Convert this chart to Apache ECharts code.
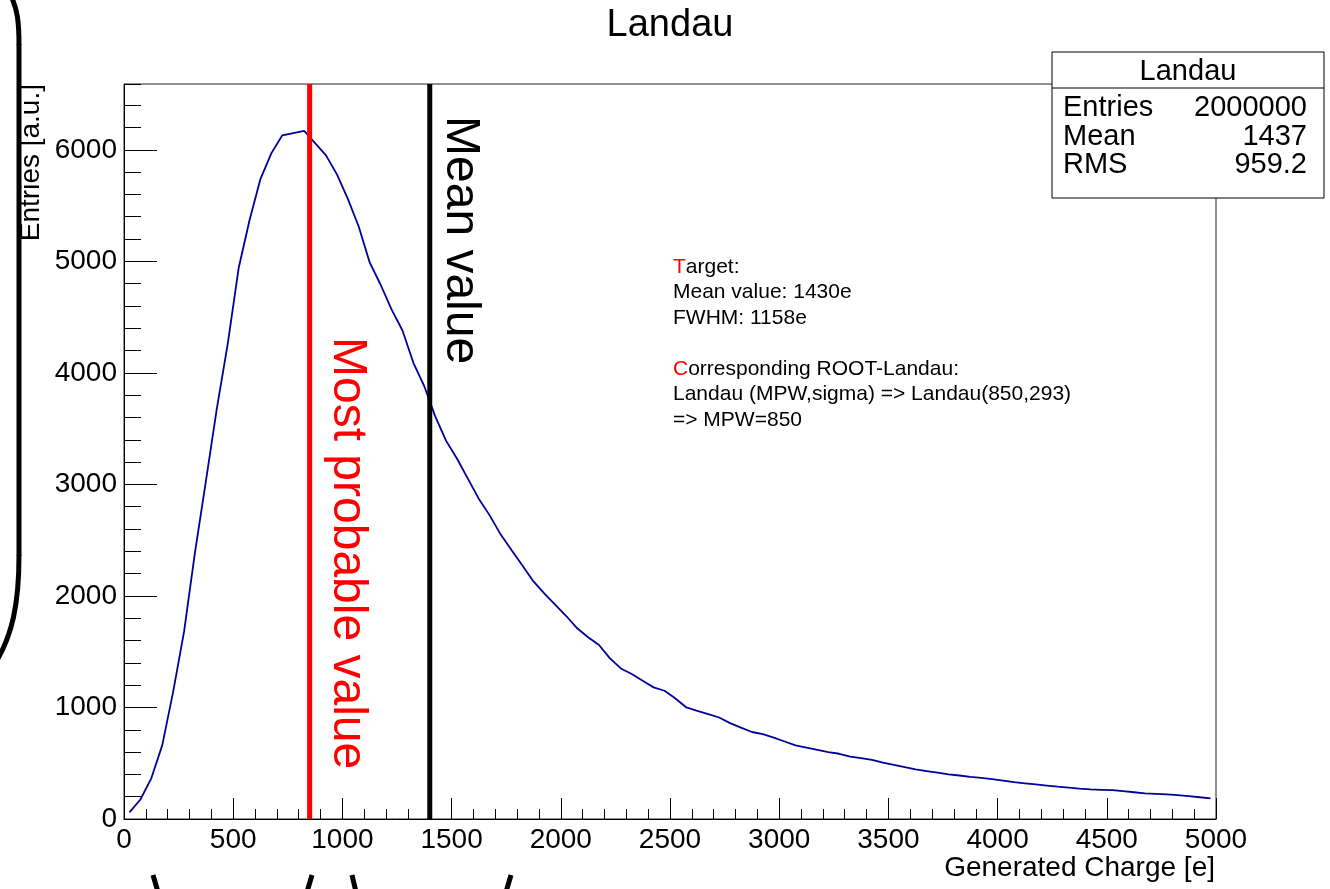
<!DOCTYPE html>
<html><head><meta charset="utf-8">
<script src="https://cdn.jsdelivr.net/npm/echarts@6/dist/echarts.min.js"></script>
<style>html,body{margin:0;padding:0;background:#fff}#c{width:1330px;height:889px}</style>
</head><body><div id="c"></div>
<script>
// ---- data ----
const binLowEdges = [0,50,100,150,200,250,300,350,400,450,500,550,600,650,700,750,800,850,900,950,
1000,1050,1100,1150,1200,1250,1300,1350,1400,1450,1500,1550,1600,1650,1700,1750,1800,1850,1900,1950,
2000,2050,2100,2150,2200,2250,2300,2350,2400,2450,2500,2550,2600,2650,2700,2750,2800,2850,2900,2950,
3000,3050,3100,3150,3200,3250,3300,3350,3400,3450,3500,3550,3600,3650,3700,3750,3800,3850,3900,3950,
4000,4050,4100,4150,4200,4250,4300,4350,4400,4450,4500,4550,4600,4650,4700,4750,4800,4850,4900,4950];
const binWidth = 50;
const binCounts = [60,175,365,660,1140,1680,2390,3030,3680,4260,4940,5370,5740,5970,6130,6150,6170,6060,5950,5780,
5560,5310,4990,4790,4570,4380,4090,3880,3610,3390,3230,3050,2870,2720,2550,2410,2270,2130,2020,1920,
1820,1710,1630,1560,1440,1350,1300,1240,1180,1150,1080,1000,970,940,910,860,820,780,760,730,
695,660,640,620,600,585,560,545,530,505,485,465,445,430,415,400,390,378,368,358,
345,330,320,310,300,290,282,272,266,262,258,250,240,230,225,220,214,205,195,185];
const mostProbableValue = 850;
const meanMarker = 1400;
const yMax = 6590;
const statsTitle = 'Landau';
const statsRows = [['Entries','2000000'],['Mean','1437'],['RMS','959.2']];
const infoLines = [['T','arget:'],['','Mean value: 1430e'],['','FWHM: 1158e'],['',''],['C','orresponding ROOT-Landau:'],['','Landau (MPW,sigma) => Landau(850,293)'],['','=> MPW=850']];

// ---- build ----
const FONT = '"Liberation Sans", Arial, Helvetica, sans-serif';
const histData = binLowEdges.map((e,i)=>[e + binWidth/2, binCounts[i]]);

const chart = echarts.init(document.getElementById('c'), null, {renderer:'canvas'});

const G = {left:124, top:84, right:1216, bottom:819};

const graphics = [];
// title
graphics.push({type:'text', x:670, y:26, z:10, style:{text:'Landau', font:'38px '+FONT, fill:'#000', textAlign:'center', textVerticalAlign:'middle'}});
// stats box
graphics.push({type:'rect', z:20, shape:{x:1052, y:52, width:272, height:146}, style:{fill:'#fff', stroke:'#000', lineWidth:1}});
graphics.push({type:'line', z:21, shape:{x1:1052, y1:88, x2:1324, y2:88}, style:{stroke:'#000', lineWidth:1}});
graphics.push({type:'text', z:22, x:1188, y:72, style:{text:statsTitle, font:'29px '+FONT, fill:'#000', textAlign:'center', textVerticalAlign:'middle'}});
statsRows.forEach((r,i)=>{
  const y = 108 + i*28.5;
  graphics.push({type:'text', z:22, x:1063, y:y, style:{text:r[0], font:'29px '+FONT, fill:'#000', textAlign:'left', textVerticalAlign:'middle'}});
  graphics.push({type:'text', z:22, x:1307, y:y, style:{text:r[1], font:'29px '+FONT, fill:'#000', textAlign:'right', textVerticalAlign:'middle'}});
});
// info text
infoLines.forEach((l,i)=>{
  if (!l[0] && !l[1]) return;
  const y = 267 + i*25.5;
  graphics.push({type:'text', z:10, x:673, y:y, style:{
    text: (l[0] ? '{r|'+l[0]+'}' : '') + '{k|'+l[1]+'}',
    rich:{r:{fill:'#ff0000', font:'21px '+FONT}, k:{fill:'#000', font:'21px '+FONT}},
    font:'21px '+FONT, textAlign:'left', textVerticalAlign:'middle'}});
});
// rotated annotations
graphics.push({type:'text', z:10, x:347, y:337, rotation:-Math.PI/2, style:{text:'Most probable value', font:'48px '+FONT, fill:'#ff0000', textAlign:'left', textVerticalAlign:'middle'}});
graphics.push({type:'text', z:10, x:460, y:116, rotation:-Math.PI/2, style:{text:'Mean value', font:'48px '+FONT, fill:'#000', textAlign:'left', textVerticalAlign:'middle'}});
// axis titles
graphics.push({type:'text', z:10, x:31, y:84, rotation:Math.PI/2, style:{text:'Entries [a.u.]', font:'28px '+FONT, fill:'#000', textAlign:'right', textVerticalAlign:'middle'}});
graphics.push({type:'text', z:10, x:1215, y:868, style:{text:'Generated Charge [e]', font:'28px '+FONT, fill:'#000', textAlign:'right', textVerticalAlign:'middle'}});
// slide decorations
const decoStyle = {fill:'none', stroke:'#000', lineWidth:5};
graphics.push({type:'bezierCurve', z:5, shape:{x1:12, y1:-2, cpx1:17, cpy1:10, cpx2:19, cpy2:20, x2:19, y2:45}, style:decoStyle});
graphics.push({type:'line', z:5, shape:{x1:19, y1:44, x2:19, y2:556}, style:decoStyle});
graphics.push({type:'bezierCurve', z:5, shape:{x1:19, y1:555, cpx1:19, cpy1:605, cpx2:12, cpy2:635, x2:-4, y2:662}, style:decoStyle});
[[153,875,158,892],[312,875,307,892],[352,875,356,892],[511,875,506,892]].forEach(p=>{
  graphics.push({type:'line', z:5, shape:{x1:p[0], y1:p[1], x2:p[2], y2:p[3]}, style:decoStyle});
});

const tickStyle = {color:'#000', width:1};
const option = {
  backgroundColor:'#fff',
  animation:false,
  grid:{left:G.left, top:G.top, width:G.right-G.left, height:G.bottom-G.top, show:true, borderColor:'#222', borderWidth:1, backgroundColor:'transparent', containLabel:false},
  xAxis:{type:'value', min:0, max:5000, interval:500,
    axisLine:{show:true, lineStyle:{color:'#000', width:1}},
    axisTick:{show:true, inside:true, length:21, lineStyle:tickStyle},
    minorTick:{show:true, splitNumber:5, length:10, lineStyle:tickStyle},
    axisLabel:{color:'#000', fontSize:28, fontFamily:FONT, margin:7, formatter:v => String(v)},
    splitLine:{show:false}, minorSplitLine:{show:false}},
  yAxis:[
    {type:'value', min:0, max:yMax, interval:1000, position:'left',
      axisLine:{show:true, lineStyle:{color:'#000', width:1}},
      axisTick:{show:true, inside:true, length:33, lineStyle:tickStyle},
      axisLabel:{color:'#000', fontSize:28, fontFamily:FONT, margin:7, showMaxLabel:false,
        formatter:v => (v % 1000 === 0 ? String(v) : '')},
      splitLine:{show:false}},
    {type:'value', min:0, max:yMax, interval:200, position:'left', offset:0,
      axisLine:{show:false},
      axisTick:{show:true, inside:true, length:17, lineStyle:tickStyle},
      axisLabel:{show:false}, splitLine:{show:false}}
  ],
  series:[
    {type:'line', name:'Landau', data:histData, showSymbol:false, symbol:'none',
      lineStyle:{color:'#00009a', width:1.8}, xAxisIndex:0, yAxisIndex:0, z:3},
    {type:'line', data:[[mostProbableValue,0],[mostProbableValue,yMax]], symbol:'none',
      lineStyle:{color:'#ff0000', width:5}, z:4},
    {type:'line', data:[[meanMarker,0],[meanMarker,yMax]], symbol:'none',
      lineStyle:{color:'#000', width:5}, z:4}
  ],
  graphic:graphics
};
chart.setOption(option);
</script></body></html>
